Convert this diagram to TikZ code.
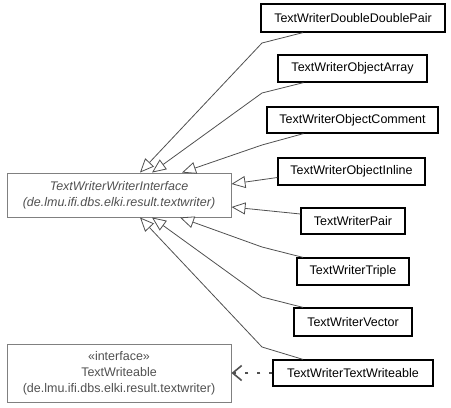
\documentclass[tikz,border=0pt]{standalone}
\usepackage{fontspec}
\setmainfont{Liberation Sans}
\usetikzlibrary{arrows.meta}
\definecolor{linegray}{HTML}{505050}
\definecolor{boxgray}{HTML}{808080}
\begin{document}
\begin{tikzpicture}[x=1pt,y=-1pt,
	font=\fontsize{12.5}{16}\selectfont,
	cls/.style={draw=black, line width=1.2pt, fill=white, inner sep=0pt},
	iface/.style={draw=boxgray, line width=0.9pt, text=linegray, align=center, inner sep=0pt},
	gen/.style={draw=linegray, line width=0.8pt, -{Triangle[open,length=14pt,width=12pt,fill=white]}},
	real/.style={draw=linegray, line width=1.1pt, dash pattern=on 3pt off 9pt, -{Straight Barb[length=9pt,width=15pt,line width=1.6pt]}}]
	\useasboundingbox (0,0) rectangle (451,408);

	% interfaces
	\node[iface, minimum width=224pt, minimum height=44pt] (writer) at (119,195)
		{\itshape TextWriterWriterInterface\\\itshape (de.lmu.ifi.dbs.elki.result.textwriter)};
	\node[iface, minimum width=224pt, minimum height=58pt] (writeable) at (119,373)
		{«interface»\\TextWriteable\\(de.lmu.ifi.dbs.elki.result.textwriter)};

	% writer classes
	\node[cls, minimum width=184pt, minimum height=28pt] (ddpair) at (353,18) {TextWriterDoubleDoublePair};
	\node[cls, minimum width=149pt, minimum height=27pt] (objarray) at (352.5,68.5) {TextWriterObjectArray};
	\node[cls, minimum width=171pt, minimum height=26pt] (objcomment) at (352.5,120) {TextWriterObjectComment};
	\node[cls, minimum width=147pt, minimum height=27pt] (objinline) at (351.5,171.5) {TextWriterObjectInline};
	\node[cls, minimum width=104pt, minimum height=26pt] (pair) at (353,221) {TextWriterPair};
	\node[cls, minimum width=112pt, minimum height=27pt] (triple) at (353,271.5) {TextWriterTriple};
	\node[cls, minimum width=118pt, minimum height=28pt] (vector) at (353,322) {TextWriterVector};
	\node[cls, minimum width=160pt, minimum height=26pt] (textwr) at (353,373) {TextWriterTextWriteable};

	% generalisations
	\draw[gen] ([xshift=-50pt]ddpair.south) -- (262,43) -- ([xshift=21pt]writer.north);
	\draw[gen] ([xshift=-49pt]objarray.south) -- (262,93) -- ([xshift=33pt]writer.north);
	\draw[gen] ([xshift=-49pt]objcomment.south) -- (262,145) -- ([xshift=63pt]writer.north);
	\draw[gen] ([yshift=-6pt]objinline.west) -- ([yshift=11pt]writer.east);
	\draw[gen] ([yshift=7pt]pair.west) -- ([yshift=-12pt]writer.east);
	\draw[gen] ([xshift=-50pt]triple.north) -- (262,247) -- ([xshift=61pt]writer.south);
	\draw[gen] ([xshift=-50pt]vector.north) -- (262,297) -- ([xshift=33pt]writer.south);
	\draw[gen] ([xshift=-50pt]textwr.north) -- (262,347) -- ([xshift=21pt]writer.south);

	% realisation
	\draw[real] (textwr.west) -- (writeable.east);
\end{tikzpicture}
\end{document}
